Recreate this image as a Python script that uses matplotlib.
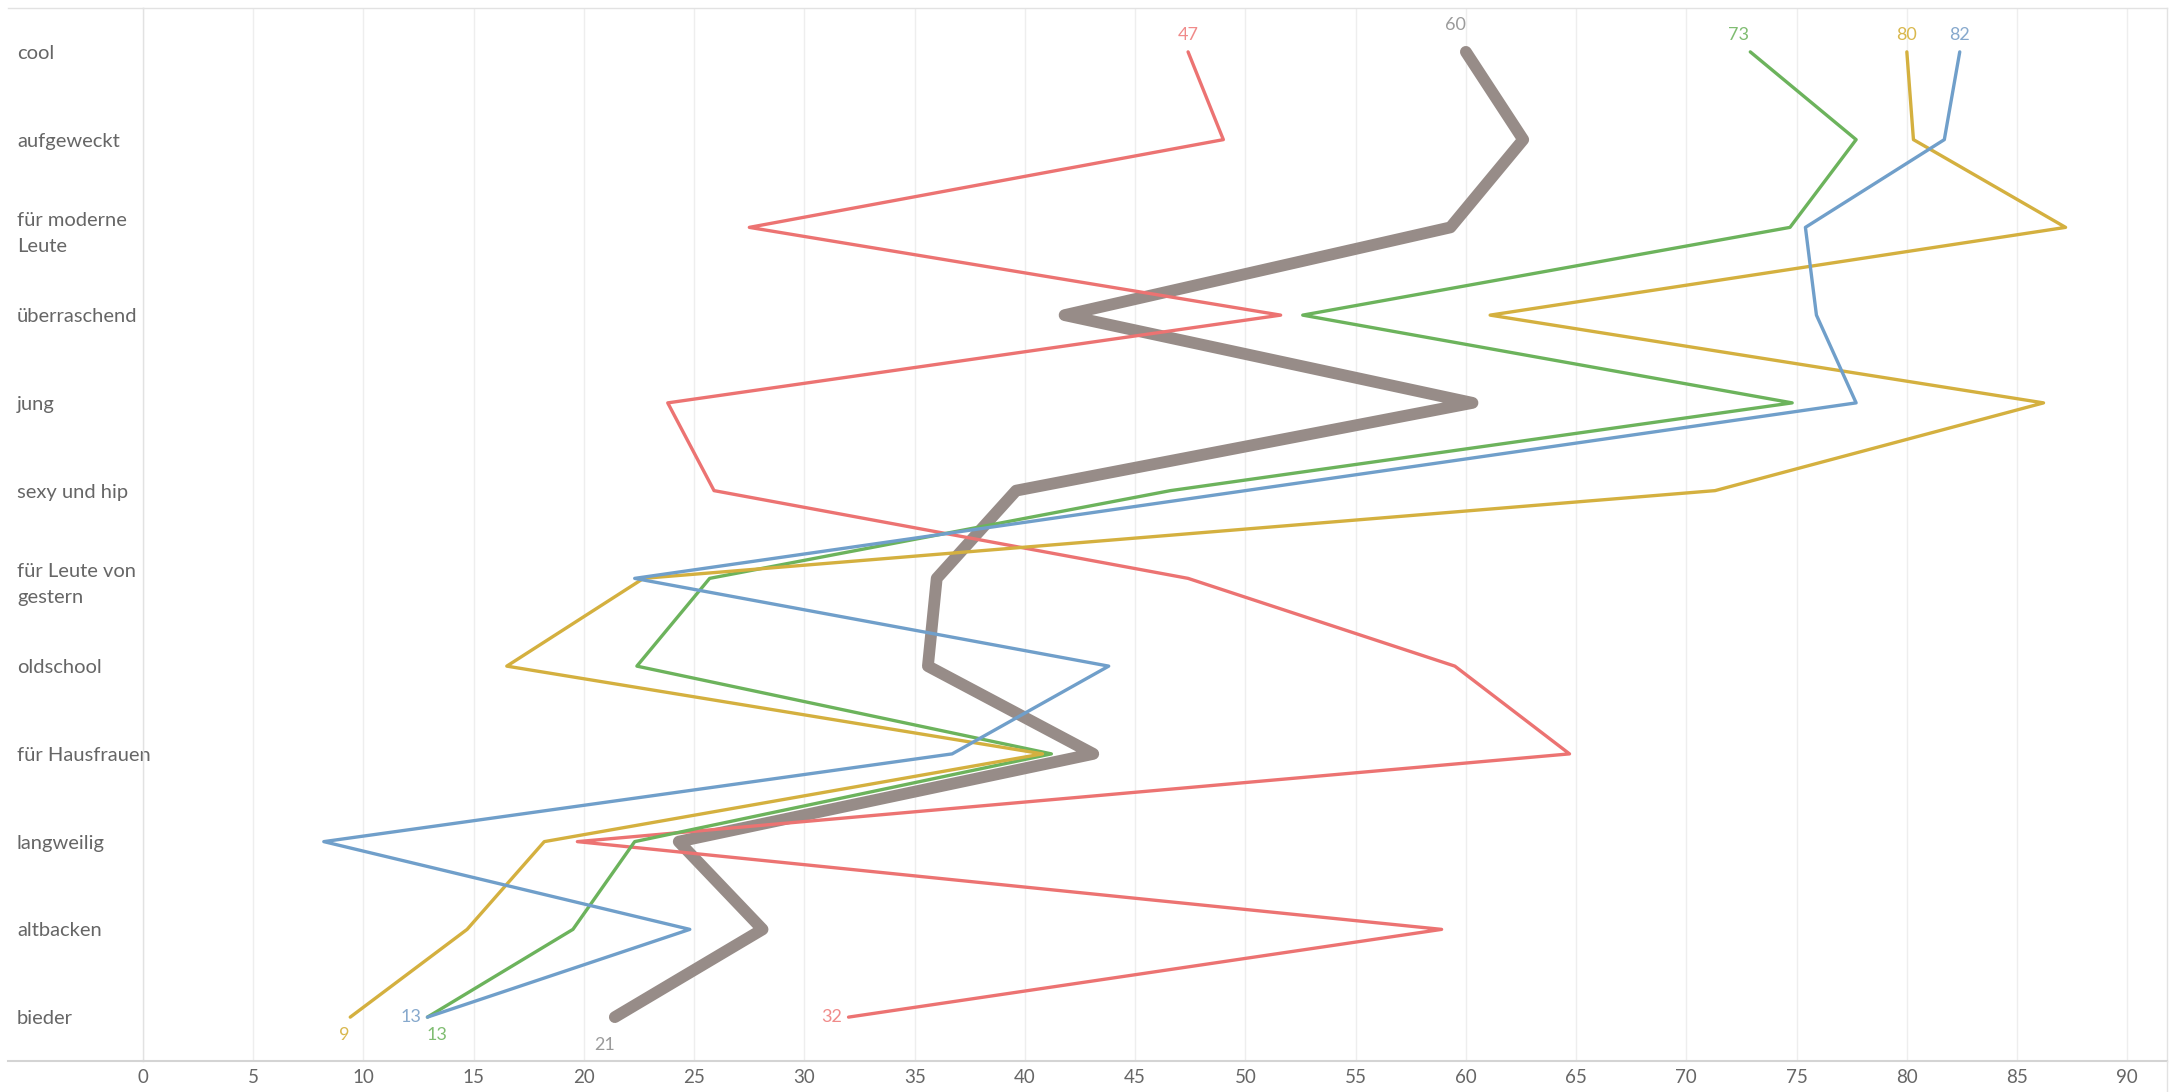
import matplotlib.pyplot as plt
from matplotlib.lines import Line2D

plt.rcParams['font.family'] = ['Lato', 'DejaVu Sans']

# attributes (rows, top to bottom)
categories = ["cool", "aufgeweckt", "für moderne\nLeute", "überraschend", "jung",
              "sexy und hip", "für Leute von\ngestern", "oldschool", "für Hausfrauen",
              "langweilig", "altbacken", "bieder"]

# values per series, one per attribute
grey_vals = [60.0, 62.6, 59.3, 41.8, 60.3, 39.6, 36.0, 35.6, 43.1, 24.3, 28.1, 21.4]
red_vals = [47.4, 49.0, 27.5, 51.6, 23.8, 25.9, 47.4, 59.5, 64.7, 19.7, 58.9, 32.0]
green_vals = [72.9, 77.7, 74.7, 52.6, 74.8, 46.6, 25.7, 22.4, 41.2, 22.3, 19.5, 12.9]
yellow_vals = [80.0, 80.3, 87.2, 61.1, 86.2, 71.3, 22.7, 16.5, 40.8, 18.2, 14.7, 9.4]
blue_vals = [82.4, 81.7, 75.4, 75.9, 77.7, 50.0, 22.3, 43.8, 36.7, 8.2, 24.8, 12.9]

x_ticks = list(range(0, 95, 5))

# (values, line colour, label colour, width, start label offset px, end label offset px, end label ha)
series = [
    (grey_vals, "#978c88", "#9b9b9b", 8.5, (-10, 27), (-10, -28), "center"),
    (red_vals, "#ec7372", "#f08b8a", 2.4, (0, 17), (-6, 0), "right"),
    (green_vals, "#6cb35c", "#80bd72", 2.4, (-12, 17), (10, -18), "center"),
    (yellow_vals, "#d4b03f", "#d9b84e", 2.4, (0, 17), (-6, -18), "center"),
    (blue_vals, "#709fca", "#87a9cd", 2.4, (0, 17), (-6, 0), "right"),
]

fig = plt.figure(figsize=(21.77, 10.92), dpi=100)
ax = fig.add_axes([143 / 2177, 31 / 1092, (2167 - 143) / 2177, (1061 - 8) / 1092])

rows = list(range(len(categories)))
px = 72 / 100  # pixel -> point

for vals, col, lcol, lw, off_top, off_bot, ha_bot in series:
    ax.plot(vals, rows, color=col, lw=lw, solid_joinstyle="round",
            solid_capstyle="round", zorder=3 if lw < 5 else 2)
    ax.annotate(f"{round(vals[0])}", (vals[0], rows[0]),
                xytext=(off_top[0] * px, off_top[1] * px), textcoords="offset points",
                ha="center", va="center", color=lcol, fontsize=13)
    ax.annotate(f"{round(vals[-1])}", (vals[-1], rows[-1]),
                xytext=(off_bot[0] * px, off_bot[1] * px), textcoords="offset points",
                ha=ha_bot, va="center", color=lcol, fontsize=13)

ax.set_xlim(0, 91.8)
ax.set_ylim(len(categories) - 0.5, -0.5)
ax.set_xticks(x_ticks)
ax.set_xticklabels([str(t) for t in x_ticks], color="#666666", fontsize=13.5)
ax.set_yticks(rows)
ax.set_yticklabels(categories, color="#666666", fontsize=14.5, linespacing=1.65)
for lab in ax.get_yticklabels():
    lab.set_ha("left")
ax.tick_params(axis="y", length=0, pad=(143 - 17) * px)
ax.tick_params(axis="x", length=0, pad=6)

ax.grid(axis="x", color="#eeeeee", lw=1)
ax.set_axisbelow(True)
for side in ["top", "right", "left"]:
    ax.spines[side].set_color("#e2e2e2")
    ax.spines[side].set_linewidth(1)
ax.spines["bottom"].set_color("#d4d4d4")
ax.spines["bottom"].set_linewidth(1.5)

# outer frame lines extending into the label areas
fig.add_artist(Line2D([8 / 2177, 143 / 2177], [1 - 8 / 1092, 1 - 8 / 1092],
                      color="#e2e2e2", lw=1))
fig.add_artist(Line2D([8 / 2177, 143 / 2177], [31 / 1092, 31 / 1092],
                      color="#d4d4d4", lw=1.5))
fig.add_artist(Line2D([2167 / 2177, 2167 / 2177], [0, 31 / 1092],
                      color="#e2e2e2", lw=1))

fig.savefig("out.png", dpi=100, facecolor="white")
